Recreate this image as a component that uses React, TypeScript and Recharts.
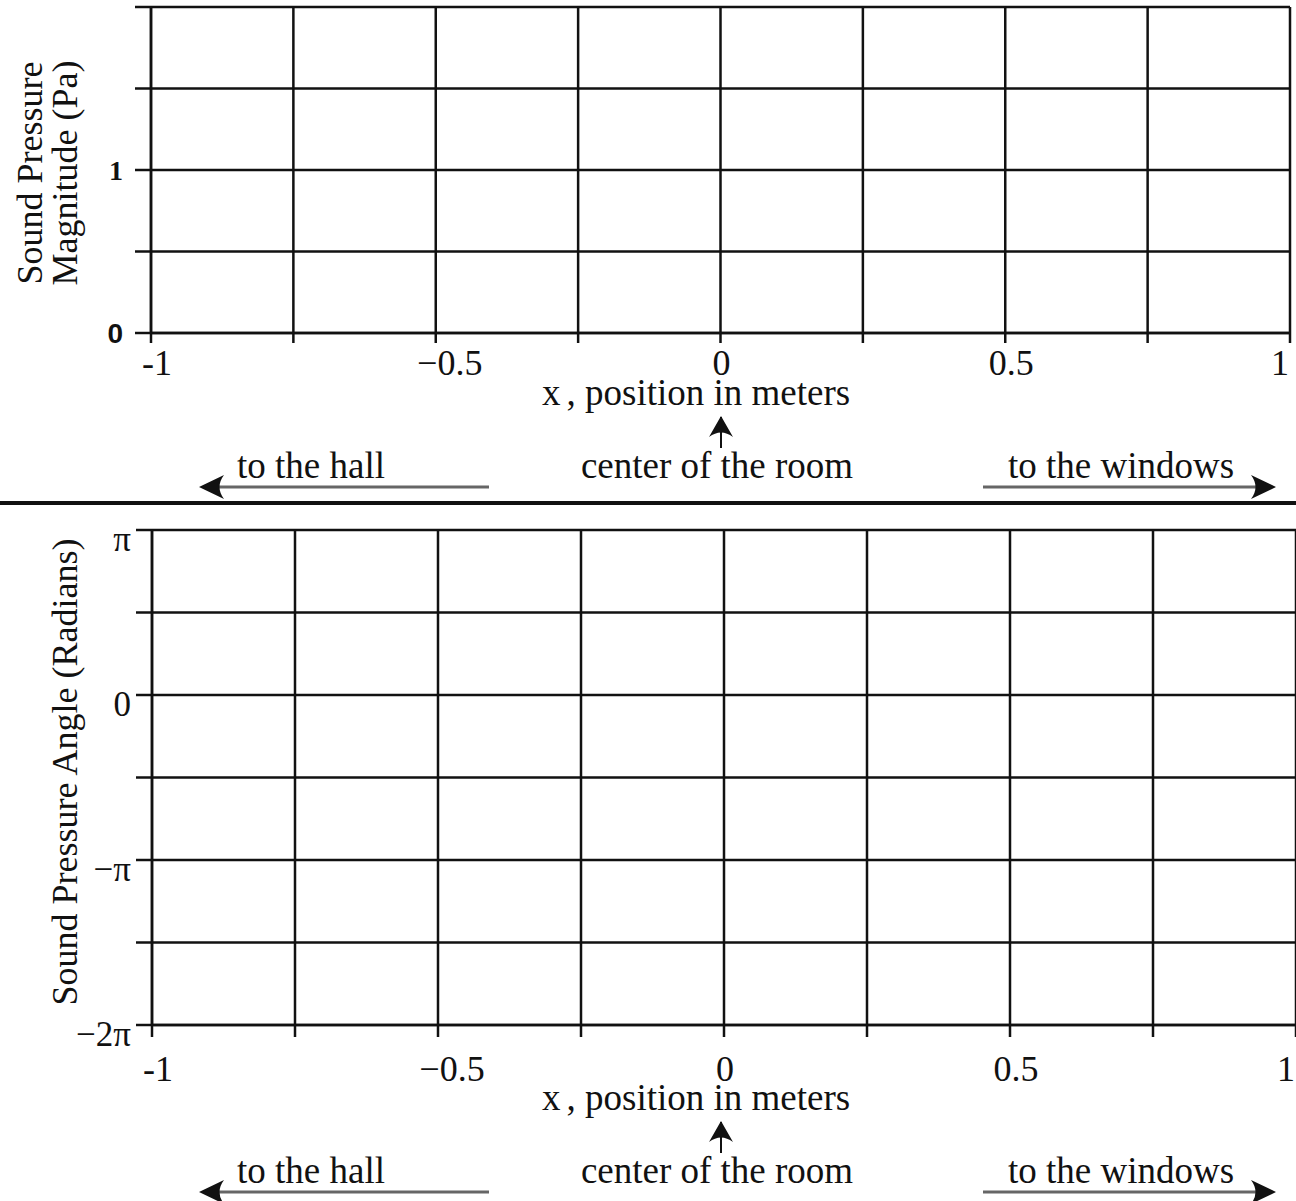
import React from 'react';
import { LineChart, Line, XAxis, YAxis, CartesianGrid } from 'recharts';

const PI = Math.PI;

const xTicks = [-1, -0.75, -0.5, -0.25, 0, 0.25, 0.5, 0.75, 1];
const xTickLabels = ['-1', '', '−0.5', '', '0', '', '0.5', '', '1'];

const magnitudeTicks = [0, 0.5, 1, 1.5, 2];
const magnitudeTickLabels = ['0', '', '1', '', ''];

const angleTicks = [-2 * PI, -1.5 * PI, -PI, -0.5 * PI, 0, 0.5 * PI, PI];
const angleTickLabels = ['−2π', '', '−π', '', '0', '', 'π'];

// worksheet: both plots are left blank for the student to sketch in,
// so every position has no value yet
const magnitudeValues: (number | null)[] = [null, null, null, null, null, null, null, null, null];
const angleValues: (number | null)[] = [null, null, null, null, null, null, null, null, null];

const magnitudeRows = xTicks.map((x, i) => ({ x, y: magnitudeValues[i] }));
const angleRows = xTicks.map((x, i) => ({ x, y: angleValues[i] }));

const SERIF = '"Liberation Serif", "Times New Roman", serif';
const SANS = '"Liberation Sans", Arial, sans-serif';
const INK = '#111';

function labelFor(ticks: number[], labels: string[], v: number) {
  const i = ticks.findIndex((t) => Math.abs(t - v) < 1e-9);
  return i < 0 ? '' : labels[i];
}

const xNudge: Record<string, number> = { '-1': 6, '−0.5': 14, '0': 1, '0.5': 6, '1': -10 };

function makeXTick(dy: number) {
  return function XTick(props: any) {
    const { x, y, payload } = props;
    const label = labelFor(xTicks, xTickLabels, payload.value);
    if (!label) return <g />;
    return (
      <text x={x + (xNudge[label] ?? 0)} y={y + dy} textAnchor="middle"
        fontFamily={SERIF} fontSize={36} fill={INK}>
        {label}
      </text>
    );
  };
}

function MagnitudeTick(props: any) {
  const { x, y, payload } = props;
  const label = labelFor(magnitudeTicks, magnitudeTickLabels, payload.value);
  if (!label) return <g />;
  const isZero = label === '0';
  return (
    <text x={x - 10} y={y + 10} textAnchor="end"
      fontFamily={isZero ? SANS : SERIF} fontWeight="bold"
      fontSize={28} fill={INK}>
      {label}
    </text>
  );
}

function AngleTick(props: any) {
  const { x, y, payload } = props;
  const label = labelFor(angleTicks, angleTickLabels, payload.value);
  if (!label) return <g />;
  return (
    <text x={x - 3} y={y + 21} textAnchor="end"
      fontFamily={SERIF} fontSize={35} fill={INK}>
      {label}
    </text>
  );
}

function ArrowHead({ x, y, dir, len = 21 }: { x: number; y: number; dir: 'up' | 'left' | 'right'; len?: number }) {
  const rot = dir === 'up' ? 0 : dir === 'left' ? -90 : 90;
  return (
    <path d={`M0,0 L-12,${len} Q0,${len - 9} 12,${len} Z`} fill={INK}
      transform={`translate(${x},${y}) rotate(${rot})`} />
  );
}

// arrows and captions below each axis (top = offset of each panel)
function Notes({ top, baseY }: { top: number; baseY: number }) {
  const t = { fontFamily: SERIF, fontSize: 37, fill: INK };
  return (
    <g transform={`translate(0,${top})`}>
      <text x={542} y={baseY} {...t}>
        x<tspan dx={6}>, position in meters</tspan>
      </text>
      <line x1={721} y1={baseY + 12} x2={721} y2={baseY + 43} stroke={INK} strokeWidth={2} />
      <ArrowHead x={721} y={baseY + 11} dir="up" />
      <text x={717} y={baseY + 73} textAnchor="middle" {...t}>center of the room</text>
      <text x={237} y={baseY + 73} {...t}>to the hall</text>
      <line x1={203} y1={baseY + 82} x2={489} y2={baseY + 82} stroke="#666" strokeWidth={3} />
      <ArrowHead x={199} y={baseY + 82} dir="left" len={25} />
      <text x={1008} y={baseY + 73} {...t}>to the windows</text>
      <line x1={983} y1={baseY + 82} x2={1270} y2={baseY + 82} stroke="#666" strokeWidth={3} />
      <ArrowHead x={1276} y={baseY + 82} dir="right" len={25} />
    </g>
  );
}

export default function App() {
  return (
    <div style={{ position: 'absolute', left: 0, top: 0, width: 1296, height: 1201, background: '#fff' }}>
      <div style={{ position: 'absolute', left: 0, top: 0 }}>
        <LineChart width={1296} height={504} data={magnitudeRows}
          margin={{ top: 7, right: 6, bottom: 0, left: 0 }}>
          <CartesianGrid stroke={INK} strokeWidth={2.5} />
          <XAxis dataKey="x" type="number" domain={[-1, 1]} ticks={xTicks} interval={0}
            allowDataOverflow height={171} tickSize={10} stroke={INK} strokeWidth={2.5}
            tick={makeXTick(30)} />
          <YAxis dataKey="y" type="number" domain={[0, 2]} ticks={magnitudeTicks} interval={0}
            allowDataOverflow width={151} tickSize={16} stroke={INK} strokeWidth={2.5}
            tick={MagnitudeTick} />
          <Line dataKey="y" stroke={INK} dot={false} isAnimationActive={false} />
        </LineChart>
      </div>
      <div style={{ position: 'absolute', left: 0, top: 504 }}>
        <LineChart width={1296} height={697} data={angleRows}
          margin={{ top: 26, right: 0, bottom: 0, left: 0 }}>
          <CartesianGrid stroke={INK} strokeWidth={2.5} />
          <XAxis dataKey="x" type="number" domain={[-1, 1]} ticks={xTicks} interval={0}
            allowDataOverflow height={176} tickSize={12} stroke={INK} strokeWidth={2.5}
            tick={makeXTick(42)} />
          <YAxis dataKey="y" type="number" domain={[-2 * PI, PI]} ticks={angleTicks} interval={0}
            allowDataOverflow width={152} tickSize={16} stroke={INK} strokeWidth={2.5}
            tick={AngleTick} />
          <Line dataKey="y" stroke={INK} dot={false} isAnimationActive={false} />
        </LineChart>
      </div>
      <svg width={1296} height={1201} style={{ position: 'absolute', left: 0, top: 0, pointerEvents: 'none' }}>
        <g fontFamily={SERIF} fontSize={36} fill={INK}>
          <text transform="translate(42,173) rotate(-90)" textAnchor="middle">Sound Pressure</text>
          <text transform="translate(77,173) rotate(-90)" textAnchor="middle">Magnitude (Pa)</text>
          <text transform="translate(77,772) rotate(-90)" textAnchor="middle">Sound Pressure Angle (Radians)</text>
        </g>
        <Notes top={0} baseY={405} />
        <line x1={0} y1={503} x2={1296} y2={503} stroke={INK} strokeWidth={4} />
        <Notes top={705} baseY={405} />
      </svg>
    </div>
  );
}
